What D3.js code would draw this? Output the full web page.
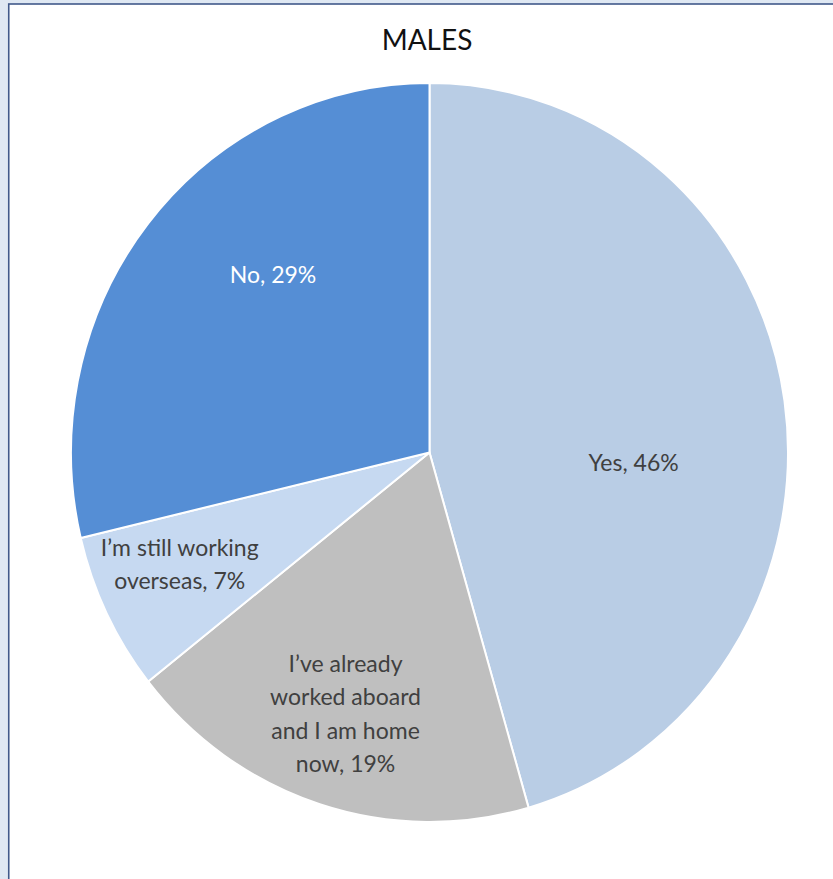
<!DOCTYPE html>
<html>
<head>
<meta charset="utf-8">
<script src="https://cdn.jsdelivr.net/npm/d3@7"></script>
<style>
  html, body { margin: 0; padding: 0; background: #dfe8f3; }
  svg { display: block; }
  text { font-family: Lato, "Open Sans", sans-serif; }
</style>
</head>
<body>
<div id="chart"></div>
<script>
// chart data
var chartTitle = "MALES";
var categories = ["Yes", "I’ve already worked aboard and I am home now", "I’m still working overseas", "No"];
var percents = [46, 19, 7, 29];

// look of each slice
var sliceColors = ["#b9cde5", "#bfbfbf", "#c6d9f1", "#558ed5"];
var labelColors = ["#404040", "#404040", "#404040", "#ffffff"];
// label placement: [fraction of radius, angle nudge in degrees, wrap width]
var labelPlace = [[0.57, 10.8, 400], [0.745, 0.5, 180], [0.76, 2.3, 190], [0.65, 9.5, 400]];

var width = 833, height = 879;
var cx = 429.5, cy = 452.5;
var radius = 358.5;
var yStretch = 369.5 / 358.5; // reference pie is a little taller than wide

var svg = d3.select("#chart").append("svg")
    .attr("width", width)
    .attr("height", height);

// frame of the chart area
svg.append("rect")
    .attr("x", 8.75).attr("y", 4)
    .attr("width", width + 20).attr("height", height + 20)
    .attr("fill", "#ffffff")
    .attr("stroke", "#41598a")
    .attr("stroke-width", 1.6);

svg.append("text")
    .attr("x", 427).attr("y", 50)
    .attr("text-anchor", "middle")
    .attr("font-size", 28)
    .attr("fill", "#111")
    .text(chartTitle);

var pie = d3.pie().sort(null).value((d) => d.value);
var arcs = pie(categories.map((c, i) => ({ name: c, value: percents[i], i: i })));

var arc = d3.arc().innerRadius(0).outerRadius(radius);

var g = svg.append("g")
    .attr("transform", "translate(" + cx + "," + cy + ") scale(1," + yStretch + ")");

g.selectAll("path.slice")
    .data(arcs)
    .enter()
    .append("path")
    .attr("class", "slice")
    .attr("d", arc)
    .attr("fill", (d) => sliceColors[d.data.i])
    .attr("stroke", "#ffffff")
    .attr("stroke-width", 2)
    .attr("vector-effect", "non-scaling-stroke");

// labels, wrapped by measured width
var fontSize = 23, lineHeight = 33.5;
var labels = svg.append("g");
arcs.forEach((d) => {
    var p = labelPlace[d.data.i];
    var ang = (d.startAngle + d.endAngle) / 2 + p[1] * Math.PI / 180;
    var lx = cx + Math.sin(ang) * radius * p[0];
    var ly = cy - Math.cos(ang) * radius * p[0] * yStretch;

    var txt = labels.append("text")
        .attr("text-anchor", "middle")
        .attr("font-size", fontSize)
        .attr("fill", labelColors[d.data.i]);

    var words = (d.data.name + ", " + d.data.value + "%").split(" ");
    var lines = [];
    var cur = "";
    var probe = txt.append("tspan");
    words.forEach((w) => {
        var tryLine = cur ? cur + " " + w : w;
        probe.text(tryLine);
        if (cur && probe.node().getComputedTextLength() > p[2]) {
            lines.push(cur);
            cur = w;
        } else {
            cur = tryLine;
        }
    });
    lines.push(cur);
    probe.remove();

    var top = ly - (lines.length - 1) * lineHeight / 2 + fontSize * 0.35;
    lines.forEach((l, k) => {
        txt.append("tspan")
            .attr("x", lx)
            .attr("y", top + k * lineHeight)
            .text(l);
    });
});
</script>
</body>
</html>
